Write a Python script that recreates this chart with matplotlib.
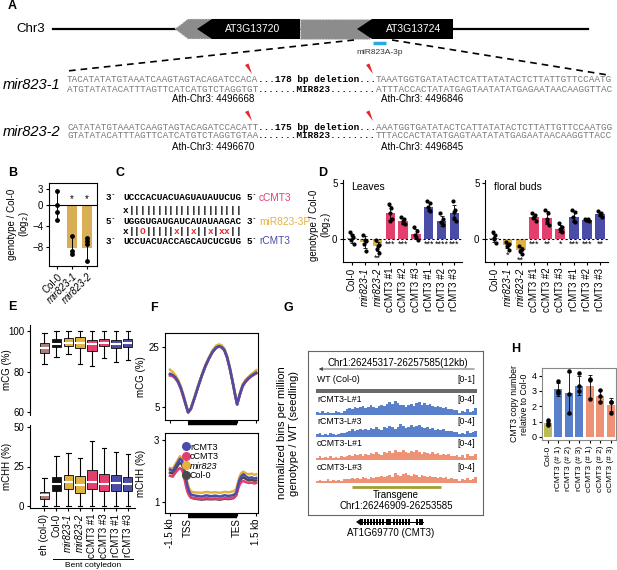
#!/usr/bin/env python3
import numpy as np
import matplotlib
matplotlib.use('Agg')
import matplotlib.pyplot as plt
from matplotlib.patches import Polygon, Rectangle
from matplotlib.lines import Line2D
from matplotlib.transforms import blended_transform_factory

plt.rcParams['font.family'] = ['Liberation Sans', 'DejaVu Sans']
plt.rcParams['font.size'] = 7
plt.rcParams['axes.linewidth'] = 0.8
plt.rcParams['xtick.major.width'] = 0.8
plt.rcParams['ytick.major.width'] = 0.8
plt.rcParams['xtick.major.size'] = 2.5
plt.rcParams['ytick.major.size'] = 2.5
plt.rcParams['xtick.major.pad'] = 1.5
plt.rcParams['ytick.major.pad'] = 1.5

W, H = 617, 570

GOLD = '#E2B23F'
PINK = '#E43E6F'
BLUE = '#4A4DA6'
TBLUE = '#5A80CC'
SALMON = '#EE9276'

# ---- A: deletion alleles
seq1_top = ['TACATATATGTAAATCAAGTAGTACAGATCCACA', '...178 bp deletion...',
            'TAAATGGTGATATACTCATTATATACTCTTATTGTTCCAATG']
seq1_bot = ['ATGTATATACATTTAGTTCATCATGTCTAGGTGT', '.......MIR823........',
            'ATTTACCACTATATGAGTAATATATGAGAATAACAAGGTTAC']
seq2_top = ['CATATATGTAAATCAAGTAGTACAGATCCACATT', '...175 bp deletion...',
            'AAATGGTGATATACTCATTATATACTCTTATTGTTCCAATGG']
seq2_bot = ['GTATATACATTTAGTTCATCATGTCTAGGTGTAA', '.......MIR823........',
            'TTTACCACTATATGAGTAATATATGAGAATAACAAGGTTACC']
coords1 = ['Ath-Chr3: 4496668', 'Ath-Chr3: 4496846']
coords2 = ['Ath-Chr3: 4496670', 'Ath-Chr3: 4496845']

# ---- B: miR823 levels
b_groups = ['Col-0', 'mir823-1', 'mir823-2']
b_means = [-0.3, -8.2, -8.2]
b_points = [[2.7, 0.0, -1.3, -2.8], [-6.0, -8.8, -9.4], [-6.4, -7.0, -7.5, -10.7]]
b_stars = ['', '*', '*']

# ---- C: target pairing
c_cmt3 = 'UCCCACUACUAGUAUAUUCUG'
c_mir = 'UGGGUGAUGAUCAUAUAAGAC'
c_rcmt3 = 'UCCUACUACCAGCAUCUCGUG'
c_pair_c = 'x||||||||||||||||||||'
c_pair_r = 'x||O|||||x||x||x|xx||'

# ---- D: CMT3 transcript levels
d_groups = ['Col-0', 'mir823-1', 'mir823-2', 'cCMT3 #1', 'cCMT3 #2', 'cCMT3 #3',
            'rCMT3 #1', 'rCMT3 #2', 'rCMT3 #3']
leaf_means = [0.05, -0.3, -0.7, 2.3, 1.6, 0.4, 2.9, 1.6, 2.35]
leaf_points = [[0.6, 0.2, -0.1, -0.5, 0.3], [0.3, -0.2, -0.5, -1.1, -0.1],
               [-0.1, -0.6, -0.9, -1.3, -0.7], [3.1, 2.8, 2.3, 1.8, 1.6],
               [2.0, 1.8, 1.6, 1.3, 1.4], [1.1, 0.7, 0.3, -0.1, 0.2],
               [3.4, 3.2, 2.9, 2.5, 2.6], [2.3, 1.8, 1.5, 1.2, 1.4],
               [3.4, 2.6, 2.4, 1.6, 1.9]]
leaf_stars = ['', '', '**', '***', '***', '', '***', '****', '***']
bud_means = [0.05, -0.6, -1.0, 2.0, 1.9, 0.9, 2.0, 1.7, 2.2]
bud_points = [[0.6, 0.3, 0.0, -0.4, 0.1], [-0.3, -0.5, -0.7, -1.0, -0.6],
              [-0.7, -0.9, -1.1, -1.4, -1.0], [2.3, 2.1, 1.9, 1.6, 2.0],
              [2.6, 2.3, 1.8, 1.2, 1.5], [1.4, 1.1, 0.9, 0.6, 0.7],
              [2.6, 2.4, 2.0, 1.5, 1.6], [1.8, 1.75, 1.7, 1.6, 1.65],
              [2.5, 2.3, 2.1, 2.0, 2.2]]
bud_stars = ['', '*', '**', '***', '**', '*', '***', '***', '**']

# ---- E: methylation box plots
e_groups = ['eh (col-0)', 'Col-0', 'mir823-1', 'mir823-2', 'cCMT3 #1', 'cCMT3 #3',
            'rCMT3 #1', 'rCMT3 #3']
cg_lo = [83.7, 87.3, 88.6, 83.7, 82.8, 86.5, 84.9, 85.7]
cg_q1 = [89.4, 92.2, 92.7, 91.4, 90.2, 92.5, 91.4, 91.9]
cg_med = [91.4, 93.8, 94.3, 94.1, 93.8, 94.3, 93.8, 94.1]
cg_q3 = [94.0, 96.3, 96.7, 97.0, 95.8, 96.3, 95.8, 95.9]
cg_hi = [99.2, 99.8, 99.8, 99.8, 99.8, 99.8, 99.8, 99.8]
chh_lo = [0.0, 0.0, 0.0, 0.0, 0.0, 0.0, 0.0, 0.0]
chh_q1 = [4.2, 9.1, 10.5, 8.2, 10.9, 9.3, 9.3, 9.1]
chh_med = [6.5, 14.0, 14.8, 12.9, 15.0, 14.1, 14.2, 13.6]
chh_q3 = [9.0, 18.5, 19.8, 18.9, 22.8, 20.5, 19.6, 18.6]
chh_hi = [17.5, 32.0, 33.5, 30.5, 41.0, 36.5, 34.5, 33.0]

# ---- F: metagene profiles (-1.5 kb, TSS, TES, +1.5 kb at 0, 20, 74, 95)
cg_x = [0, 3, 6, 9, 12, 15, 18, 20, 23, 27, 31, 35, 39, 43, 47, 51, 54, 57, 60, 63,
        66, 69, 72, 74, 77, 80, 83, 86, 89, 92, 95]
cg_r = [16.2, 15.8, 15.0, 13.6, 11.5, 8.6, 5.4, 3.4, 4.6, 8.2, 12.0, 15.6, 18.8, 21.4,
        23.6, 25.0, 25.4, 25.1, 24.1, 21.7, 18.0, 13.6, 8.9, 6.1, 9.4, 12.2, 13.6, 14.6,
        15.4, 16.0, 16.6]
cg_c = [15.6, 15.4, 14.6, 13.3, 11.1, 8.2, 5.2, 3.3, 4.4, 8.0, 11.8, 15.5, 18.6, 21.3,
        23.5, 24.9, 25.3, 25.0, 24.0, 21.5, 17.8, 13.4, 8.7, 5.9, 9.2, 12.0, 13.4, 14.4,
        15.2, 15.8, 16.3]
cg_m = [17.6, 16.8, 15.7, 14.2, 12.0, 9.0, 5.7, 3.6, 4.8, 8.5, 12.3, 15.9, 19.2, 21.8,
        24.1, 25.6, 26.0, 25.7, 24.6, 22.2, 18.4, 14.0, 9.2, 6.5, 9.8, 12.7, 14.1, 15.1,
        15.9, 16.6, 17.4]
cg_w = [16.0, 15.6, 14.8, 13.4, 11.3, 8.4, 5.3, 3.3, 4.5, 8.1, 11.9, 15.5, 18.7, 21.3,
        23.5, 24.9, 25.3, 25.0, 24.0, 21.6, 17.9, 13.5, 8.8, 6.0, 9.3, 12.1, 13.5, 14.5,
        15.3, 15.9, 16.4]
chh_x = [0, 3, 6, 9, 11, 13, 15, 17, 19, 21, 23, 26, 30, 35, 40, 45, 50, 55, 60, 65,
         70, 73, 75, 77, 79, 81, 84, 87, 90, 93, 95]
chh_r = [2.05, 2.00, 2.15, 2.30, 2.40, 2.35, 2.20, 1.85, 1.55, 1.35, 1.25, 1.22, 1.20,
         1.18, 1.22, 1.19, 1.21, 1.18, 1.22, 1.20, 1.23, 1.30, 1.55, 1.75, 1.85, 1.90,
         1.82, 1.78, 1.80, 1.76, 1.78]
chh_c = [1.85, 1.82, 1.95, 2.05, 2.10, 2.05, 1.90, 1.60, 1.35, 1.22, 1.15, 1.13, 1.12,
         1.10, 1.13, 1.11, 1.12, 1.10, 1.13, 1.12, 1.15, 1.22, 1.42, 1.58, 1.66, 1.68,
         1.64, 1.62, 1.63, 1.60, 1.62]
chh_m = [2.10, 2.08, 2.22, 2.38, 2.48, 2.42, 2.28, 1.95, 1.65, 1.45, 1.35, 1.32, 1.31,
         1.30, 1.33, 1.31, 1.32, 1.30, 1.33, 1.32, 1.35, 1.42, 1.65, 1.85, 1.95, 1.98,
         1.92, 1.90, 1.92, 1.88, 1.90]
chh_w = [1.95, 1.92, 2.05, 2.20, 2.28, 2.22, 2.08, 1.70, 1.45, 1.25, 1.15, 1.12, 1.10,
         1.08, 1.10, 1.09, 1.10, 1.08, 1.11, 1.10, 1.13, 1.22, 1.48, 1.68, 1.76, 1.80,
         1.74, 1.70, 1.72, 1.69, 1.70]
f_ticks = [0, 20, 74, 95]
f_ticklabels = ['-1.5 kb', 'TSS', 'TES', '1.5 kb']

# ---- G: coverage tracks, 60 bins over Chr1:26245317-26257585
TRACK_KB = 12.27
trk_r1 = [0.8, 0.6, 0.9, 0.5, 0.7, 0.6, 0.4, 0.9, 0.8, 0.6, 1.0,
          1.4, 1.8, 1.5, 2.0, 1.7, 1.9, 2.2, 1.8, 2.1, 2.4, 2.0, 1.8, 2.3, 2.6, 2.2,
          2.8, 3.2, 2.7, 3.5, 3.0, 2.6, 2.4, 2.1, 2.5, 2.8, 2.3, 2.9, 3.3, 2.6, 3.0,
          2.4, 2.7, 2.2, 1.9, 2.3, 2.0, 1.7, 1.9, 1.5, 1.6, 1.3, 1.2,
          0.6, 0.9, 0.7, 1.6, 0.8, 1.0, 1.7]
trk_r3 = [0.7, 0.9, 0.5, 0.8, 0.6, 0.9, 0.7, 0.5, 0.8, 0.9, 1.1,
          1.3, 1.6, 1.9, 1.5, 1.8, 2.1, 1.7, 2.0, 1.8, 2.2, 1.9, 2.4, 2.1, 1.8, 2.5,
          2.2, 2.7, 2.4, 2.0, 2.6, 3.2, 2.8, 2.3, 2.6, 2.9, 2.4, 2.7, 3.0, 2.5, 2.2,
          2.4, 2.0, 2.3, 1.8, 2.1, 1.7, 1.9, 1.5, 1.4, 1.6, 1.2, 1.3,
          0.7, 1.0, 0.8, 1.5, 0.9, 1.2, 1.6]
trk_c1 = [0.6, 0.9, 0.4, 0.7, 0.5, 1.0, 0.6, 0.8, 0.5, 0.9, 0.7,
          1.0, 1.3, 0.9, 1.4, 1.2, 1.6, 1.1, 1.5, 1.3, 1.7, 1.4, 1.9, 1.6, 1.3, 2.0,
          1.7, 2.3, 1.8, 2.6, 2.1, 1.9, 2.4, 2.0, 1.7, 2.2, 1.9, 2.5, 2.0, 1.6, 2.1,
          1.8, 1.5, 1.9, 1.4, 1.7, 1.3, 1.6, 1.2, 1.4, 1.1, 1.0, 1.2,
          0.7, 1.2, 0.6, 1.4, 0.9, 1.1, 1.5]
trk_c3 = [0.5, 0.8, 0.6, 0.4, 0.9, 0.6, 0.7, 0.5, 0.8, 0.6, 0.9,
          1.1, 0.9, 1.2, 1.0, 1.3, 1.1, 1.4, 1.2, 1.0, 1.5, 1.3, 1.6, 1.4, 1.8, 1.5,
          1.7, 2.0, 1.6, 2.4, 1.9, 1.7, 2.2, 2.6, 2.0, 1.8, 2.3, 1.9, 1.6, 2.1, 1.7,
          1.5, 1.8, 1.4, 1.6, 1.3, 1.5, 1.2, 1.4, 1.1, 1.3, 1.0, 0.9,
          0.6, 1.1, 0.7, 1.3, 0.8, 1.0, 1.4]
trk_names = ['rCMT3-L#1', 'rCMT3-L#3', 'cCMT3-L#1', 'cCMT3-L#3']

# ---- H: copy number
h_groups = ['Col-0', 'rCMT3 (# 1)', 'rCMT3 (# 2)', 'rCMT3 (# 3)',
            'cCMT3 (# 1)', 'cCMT3 (# 2)', 'cCMT3 (# 3)']
h_means = [0.9, 3.1, 2.85, 3.35, 3.3, 2.7, 2.1]
h_points = [[0.8, 0.9, 1.1], [3.65, 3.0, 2.9], [4.3, 2.8, 1.55], [4.2, 3.3, 3.0],
            [3.7, 3.75, 2.45], [3.05, 2.7, 2.3], [2.3, 2.3, 1.55]]


def px_axes(fig, x0, y0, x1, y1):
    return fig.add_axes([x0 / W, 1 - y1 / H, (x1 - x0) / W, (y1 - y0) / H])


def italic_mir(labels):
    for t in labels:
        if t.get_text().startswith('mir'):
            t.set_style('italic')


fig = plt.figure(figsize=(W / 100, H / 100), dpi=100)
ov = fig.add_axes([0, 0, 1, 1])
ov.set_xlim(0, W)
ov.set_ylim(H, 0)
ov.axis('off')

for lab, x, y in [('A', 8, 6), ('B', 8, 173), ('C', 116, 173), ('D', 318, 173),
                  ('E', 8, 307), ('F', 150, 308), ('G', 283, 308), ('H', 511, 349)]:
    ov.text(x, y, lab, fontsize=9, fontweight='bold', va='center')

# ---------------- A ----------------
ov.text(16, 29, 'Chr3', fontsize=9.5, va='center')
ov.plot([53, 588], [29, 29], color='black', lw=1.6, zorder=1)
grey = '#8C8C8C'
ov.add_patch(Polygon([(175, 29), (188, 19), (300, 19), (300, 39), (188, 39)],
                     fc=grey, ec='#dddddd', ls=':', lw=0.8, zorder=2))
ov.add_patch(Rectangle((300, 19), 70, 20, fc=grey, ec='#dddddd', ls=':', lw=0.8, zorder=2))
ov.add_patch(Polygon([(197, 29), (212, 19), (300, 19), (300, 39), (212, 39)],
                     fc='black', ec='none', zorder=3))
ov.add_patch(Polygon([(357, 29), (372, 19), (453, 19), (453, 39), (372, 39)],
                     fc='black', ec='none', zorder=3))
ov.text(253, 29, 'AT3G13720', color='white', fontsize=7.5, ha='center', va='center', zorder=4)
ov.text(414, 29, 'AT3G13724', color='white', fontsize=7.5, ha='center', va='center', zorder=4)
ov.plot([373, 386], [43, 43], color='#29ABE2', lw=2.5, solid_capstyle='butt')
ov.text(380, 52, 'miR823A-3p', fontsize=6, color='#333333', ha='center', va='center')
ov.plot([354, 67], [40, 71], color='black', lw=1.2, dashes=(4, 3))
ov.plot([392, 608], [40, 75], color='black', lw=1.2, dashes=(4, 3))

CW = 5.62
SEQ_FS = CW / 0.6 * 72 / 100


def seq_row(segs, x0, y, weights=('normal', 'bold', 'normal'),
            colors=('#7a7a7a', 'black', '#7a7a7a')):
    x = x0
    for s, w, c in zip(segs, weights, colors):
        ov.text(x, y, s, family='Liberation Mono', fontsize=SEQ_FS, fontweight=w,
                color=c, va='center', ha='left')
        x += len(s) * CW


def cut(x, y):
    ov.add_patch(Polygon([(x - 5, y - 6), (x - 1.5, y - 7.5), (x + 2, y + 3)],
                         fc='#E8262B', ec='none', zorder=5))


for name, top, bot, crd, yrow in [('mir823-1', seq1_top, seq1_bot, coords1, 80),
                                  ('mir823-2', seq2_top, seq2_bot, coords2, 127)]:
    ov.text(3, yrow + 5, name, fontsize=10.5, style='italic', va='center')
    seq_row(top, 67, yrow)
    seq_row(bot, 67, yrow + 9)
    ov.text(213, yrow + 19.5, crd[0], fontsize=7, ha='center', va='center')
    ov.text(422, yrow + 19.5, crd[1], fontsize=7, ha='center', va='center')
    cut(250, yrow - 9)
    cut(371, yrow - 9)

# ---------------- C ----------------
c_rows = [(198, '3`', c_cmt3, '5`', 'cCMT3', PINK),
          (222, '5`', c_mir, '3`', 'miR823-3P', GOLD),
          (241, '3`', c_rcmt3, '5`', 'rCMT3', BLUE)]
for y, e1, s, e2, nm, col in c_rows:
    ov.text(106, y, e1, family='Liberation Mono', fontsize=SEQ_FS, fontweight='bold', va='center')
    ov.text(123, y, s, family='Liberation Mono', fontsize=SEQ_FS, fontweight='bold', va='center')
    ov.text(247, y, e2, family='Liberation Mono', fontsize=SEQ_FS, fontweight='bold', va='center')
    ov.text(259, y, nm, fontsize=7.3, color=col, va='center')
for y, pairs in [(210.5, c_pair_c), (231.5, c_pair_r)]:
    for i, ch in enumerate(pairs):
        col = '#E8262B' if (ch in 'xO' and i > 0) else 'black'
        ov.text(123 + i * CW, y, ch, family='Liberation Mono', fontsize=SEQ_FS,
                fontweight='bold', color=col, va='center')

# ---------------- B ----------------
axb = px_axes(fig, 49, 183, 97, 266)
xb = np.arange(len(b_groups))
axb.bar(xb, b_means, width=0.68, color=['#B3AC4C', '#D9AF56', '#D9AF56'], zorder=1)
axb.axhline(0, color='black', lw=0.8, zorder=2)
for i, p in enumerate(b_points):
    axb.vlines(i, min(p), max(p), color='black', lw=0.7, zorder=3)
    axb.scatter([i] * len(p), p, s=6, color='black', zorder=4)
    if b_stars[i]:
        axb.text(i, 1.2, b_stars[i], ha='center', va='center', fontsize=7)
axb.set_xlim(-0.55, 2.65)
axb.set_ylim(-11.7, 4.2)
axb.set_yticks([3, 0, -4, -8])
axb.set_xticks(xb)
axb.set_xticklabels(b_groups, rotation=45, ha='right', rotation_mode='anchor')
italic_mir(axb.get_xticklabels())
axb.set_ylabel('genotype / Col-0\n(log$_2$)', labelpad=1, linespacing=1.0)

# ---------------- D ----------------
d_colors = ['#9a9a9a', GOLD, GOLD, PINK, PINK, PINK, BLUE, BLUE, BLUE]
jit = [-0.13, 0.09, -0.04, 0.13, 0.01]


def draw_d(ax, means, pts, stars, title):
    x = np.arange(len(d_groups))
    ax.bar(x, means, width=0.74, color=d_colors, zorder=1)
    ax.axhline(0, color='black', lw=0.8, dashes=(2, 2), zorder=2)
    for i, p in enumerate(pts):
        p = np.asarray(p)
        sd = p.std(ddof=1)
        ax.errorbar(i, means[i], yerr=sd, color='black', lw=0.6, capsize=1.5,
                    capthick=0.6, zorder=3)
        ax.scatter(i + np.array(jit[:len(p)]), p, s=4, color='black', zorder=4)
        if stars[i]:
            ax.text(i, min(0, p.min()) - 0.5, stars[i], ha='center', va='center', fontsize=6.5)
    ax.set_xlim(-0.7, 8.6)
    ax.set_ylim(-2.1, 5.3)
    ax.set_yticks([0, 5])
    ax.set_xticks(x)
    ax.set_xticklabels(d_groups, rotation=90)
    italic_mir(ax.get_xticklabels())
    for s in ['top', 'right']:
        ax.spines[s].set_visible(False)
    ax.text(0.07, 0.97, title, transform=ax.transAxes, fontsize=7.5, va='top')


axd1 = px_axes(fig, 343, 180, 462, 262)
draw_d(axd1, leaf_means, leaf_points, leaf_stars, 'Leaves')
axd1.set_ylabel('genotype / Col-0\n(log$_2$)', linespacing=1.0)
axd1.yaxis.set_label_coords(-0.085, 0.45)
axd2 = px_axes(fig, 485, 180, 608, 262)
draw_d(axd2, bud_means, bud_points, bud_stars, 'floral buds')

# ---------------- E ----------------
e_colors = ['#B07B7B', '#111111', GOLD, GOLD, PINK, PINK, BLUE, BLUE]


def box_stats(lo, q1, med, q3, hi):
    return [dict(whislo=a, q1=b, med=c, q3=d, whishi=e, fliers=[])
            for a, b, c, d, e in zip(lo, q1, med, q3, hi)]


def draw_e(ax, stats):
    bp = ax.bxp(stats, positions=np.arange(len(stats)), widths=0.78, patch_artist=True,
                showfliers=False, boxprops=dict(lw=0.7, edgecolor='#222222'),
                whiskerprops=dict(lw=0.8), capprops=dict(lw=0.8),
                medianprops=dict(color='white', lw=1.5))
    for patch, c in zip(bp['boxes'], e_colors):
        patch.set_facecolor(c)
    ax.set_xlim(-1.2, 7.6)
    for s in ['top', 'right']:
        ax.spines[s].set_visible(False)


axe1 = px_axes(fig, 30, 325, 135, 415)
draw_e(axe1, box_stats(cg_lo, cg_q1, cg_med, cg_q3, cg_hi))
axe1.set_ylim(58.5, 103)
axe1.set_yticks([60, 80, 100])
axe1.set_xticks([])
axe1.spines['bottom'].set_visible(False)
axe1.set_ylabel('mCG (%)')
axe1.yaxis.set_label_coords(-0.175, 0.5)
axe2 = px_axes(fig, 30, 425, 135, 508)
draw_e(axe2, box_stats(chh_lo, chh_q1, chh_med, chh_q3, chh_hi))
axe2.set_ylim(-1.5, 51.5)
axe2.set_yticks([0, 25, 50])
axe2.set_xticks(np.arange(len(e_groups)))
axe2.set_xticklabels(e_groups, rotation=90)
italic_mir(axe2.get_xticklabels())
axe2.set_ylabel('mCHH (%)')
axe2.yaxis.set_label_coords(-0.175, 0.5)
ov.plot([53, 133], [559, 559], color='black', lw=0.7)
ov.text(93, 565.5, 'Bent cotyledon', fontsize=6, ha='center', va='center')

# ---------------- F ----------------
f_series = [('Col-0', '#4a4a4a', cg_w, chh_w), ('mir823', GOLD, cg_m, chh_m),
            ('cCMT3', PINK, cg_c, chh_c), ('rCMT3', BLUE, cg_r, chh_r)]
axf1 = px_axes(fig, 165, 333, 258, 420)
axf2 = px_axes(fig, 165, 433, 258, 513)
for nm, col, cg, chh in f_series:
    axf1.plot(cg_x, cg, color=col, lw=1.8)
    axf2.plot(chh_x, chh, color=col, lw=1.8)
for ax in (axf1, axf2):
    ax.set_xlim(-5.5, 97)
    ax.set_xticks(f_ticks)
    tr = blended_transform_factory(ax.transData, ax.transAxes)
    ax.plot([20, 74], [-0.04, -0.04], transform=tr, color='black', lw=3.2,
            solid_capstyle='butt', clip_on=False)
axf1.set_xticklabels([])
axf1.set_ylim(0.8, 29.8)
axf1.set_yticks([5, 25])
axf1.set_ylabel('mCG (%)', labelpad=2)
axf2.set_ylim(0.65, 3.23)
axf2.set_yticks([1, 3])
axf2.set_xticklabels(f_ticklabels, rotation=90)
axf2.set_ylabel('mCHH (%)', labelpad=6)
handles = [Line2D([], [], marker='o', ls='', color=c, markersize=5.5)
           for nm, c, a, b in f_series[::-1]]
leg = axf2.legend(handles, [s[0] for s in f_series[::-1]], loc='upper left',
                  bbox_to_anchor=(0.2, 0.88), frameon=False, fontsize=6.5,
                  handlelength=0.6, handletextpad=0.1, labelspacing=0.05,
                  borderpad=0, borderaxespad=0)
for t in leg.get_texts():
    if t.get_text() == 'mir823':
        t.set_style('italic')

# ---------------- G ----------------
axg = px_axes(fig, 308, 351, 483, 515)
kb_px = 161 / TRACK_KB
axg.set_xlim(-8 / kb_px, TRACK_KB + 6 / kb_px)
axg.set_ylim(0, 164)
axg.set_xticks([])
axg.set_yticks([])
for s in axg.spines.values():
    s.set_color('#666666')
gx = (np.arange(len(trk_r1)) + 0.5) * TRACK_KB / len(trk_r1)
bw = TRACK_KB / len(trk_r1)
axg.annotate('', xy=(0.0, 146), xytext=(TRACK_KB, 146),
             arrowprops=dict(arrowstyle='-|>', lw=0.6, color='#444444', mutation_scale=5))
axg.text(6.2, 152, 'Chr1:26245317-26257585(12kb)', fontsize=7, ha='center', va='center')
axg.text(0.08, 135, 'WT (Col-0)', fontsize=6.3, va='center')
axg.text(10.75, 135, '[0-1]', fontsize=6.3, va='center')
axg.add_patch(Rectangle((0, 122.5), TRACK_KB, 3.5, fc='#6a6a6a', ec='none'))
for vals, base, col, nm in [(trk_r1, 100, TBLUE, trk_names[0]), (trk_r3, 78, TBLUE, trk_names[1]),
                            (trk_c1, 55, SALMON, trk_names[2]), (trk_c3, 32, SALMON, trk_names[3])]:
    axg.bar(gx, np.array(vals) * 4, width=bw, bottom=base, color=col, lw=0)
    axg.text(0.08, base + 16, nm, fontsize=6.3, va='center')
    axg.text(10.75, base + 16, '[0-4]', fontsize=6.3, va='center')
axg.plot([2.74, 9.53], [28, 28], color='#A69C32', lw=2, solid_capstyle='butt')
axg.text(6.1, 20, 'Transgene', fontsize=7, ha='center', va='center')
axg.text(6.1, 9, 'Chr1:26246909-26253585', fontsize=7, ha='center', va='center')

ov.text(288, 433, 'normalized bins per million\ngenotype / WT (seedling)', fontsize=8,
        rotation=90, ha='center', va='center', linespacing=1.15)
gm_exons = [(361, 1.5), (364, 1.5), (367, 1.5), (370, 1.5), (373, 1.5), (376, 1.5),
            (379, 1.5), (382, 1.5), (386, 5), (393, 1.5), (396, 1.5), (399, 1.5),
            (402, 1.5), (405, 1.5), (408, 1.5), (416, 1.5), (419, 4)]
ov.plot([358, 423], [522, 522], color='black', lw=0.7)
ov.add_patch(Polygon([(356, 522), (361, 518.5), (361, 525.5)], fc='black', ec='none'))
for x0, w in gm_exons:
    ov.add_patch(Rectangle((x0, 519), w, 6, fc='black', ec='none'))
ov.text(391, 533, 'AT1G69770 (CMT3)', fontsize=7, ha='center', va='center')

# ---------------- H ----------------
axh = px_axes(fig, 542, 368, 616, 440)
xh = np.arange(len(h_groups))
axh.bar(xh, h_means, width=0.78, color=['#BDBB55'] + [TBLUE] * 3 + [SALMON] * 3, zorder=1)
for i, p in enumerate(h_points):
    p = np.asarray(p)
    axh.errorbar(i, h_means[i], yerr=p.std(ddof=1), color='black', lw=0.6, capsize=1.5,
                 capthick=0.6, zorder=3)
    axh.scatter([i] * len(p), p, s=5, color='black', zorder=4)
axh.set_xlim(-0.56, 6.5)
axh.set_ylim(-0.2, 4.5)
axh.set_yticks([0, 1, 2, 3, 4])
axh.set_xticks(xh)
axh.set_xticklabels(h_groups, rotation=90, fontsize=6)
axh.tick_params(axis='y', labelsize=6.5)
for s in axh.spines.values():
    s.set_color('#888888')
axh.set_ylabel('CMT3 copy number\nrelative to Col-0', fontsize=6.3, labelpad=2, linespacing=1.1)

fig.savefig('out.png', dpi=100)
